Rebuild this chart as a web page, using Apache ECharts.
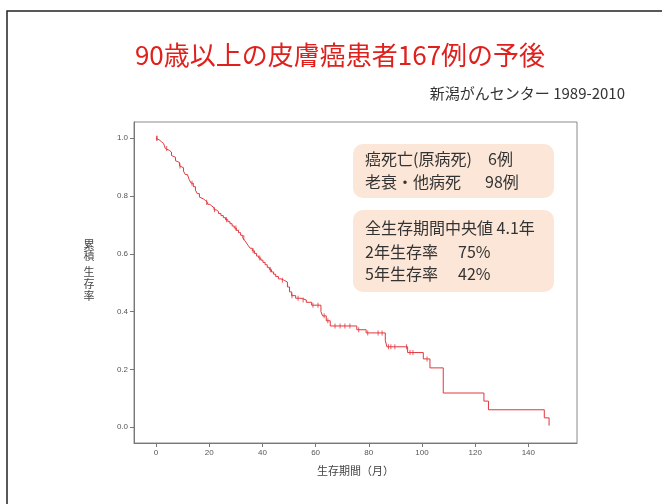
<!DOCTYPE html>
<html>
<head>
<meta charset="utf-8">
<script src="https://cdn.jsdelivr.net/npm/echarts@6/dist/echarts.min.js"></script>
<style>
html, body { margin: 0; padding: 0; background: #fff; }
#chart { width: 662px; height: 504px; }
</style>
</head>
<body>
<div id="chart"></div>
<script>
// Kaplan-Meier steps (months, cumulative survival)
var stepTimes = [0, 0.5, 1.2, 2, 2.8, 3.5, 4.2, 5, 5.8, 6.5, 7.3, 8, 8.8, 9.5, 10.3, 11, 11.8, 12.5, 13.2, 14,
    14.8, 15.5, 16.3, 17, 17.8, 18.6, 19.4, 20.2, 21, 21.8, 22.6, 23.5, 24.4, 25.3, 26.1, 27, 27.8, 28.6, 29.4, 30.2,
    31, 31.8, 32.6, 33.3, 34, 34.7, 35.4, 36.2, 37, 37.8, 38.6, 39.4, 40.2, 41, 41.8, 42.6, 43.4, 44.2, 45, 46,
    47, 48.2, 49.4, 50.2, 51, 52.5, 54.5, 56.5, 58.5, 62, 62.6, 64, 65.5, 75.5, 79, 86.2, 86.8, 94.6, 100.5, 103,
    108, 123.3, 125, 146, 147.8];
var stepSurv = [1.0, 0.994, 0.988, 0.982, 0.976, 0.964, 0.958, 0.952, 0.940, 0.934, 0.922, 0.916, 0.904, 0.898, 0.886, 0.874, 0.868, 0.856, 0.844, 0.832,
    0.820, 0.808, 0.796, 0.790, 0.784, 0.778, 0.771, 0.765, 0.759, 0.752, 0.746, 0.739, 0.732, 0.725, 0.718, 0.711, 0.704, 0.696, 0.689, 0.681,
    0.673, 0.664, 0.655, 0.646, 0.637, 0.628, 0.619, 0.610, 0.601, 0.592, 0.585, 0.578, 0.570, 0.562, 0.553, 0.545, 0.537, 0.529, 0.521, 0.513,
    0.508, 0.502, 0.485, 0.468, 0.455, 0.446, 0.440, 0.432, 0.422, 0.400, 0.385, 0.368, 0.350, 0.337, 0.326, 0.300, 0.278, 0.258, 0.236, 0.205,
    0.118, 0.090, 0.060, 0.032, 0.005];
// censored cases (months)
var censorTimes = [0.2, 0.4, 4, 9, 13.5, 19, 22, 26.5, 30, 33, 36.5, 39, 43, 47.5,
    51.1, 53.4, 55.3, 59, 60.9, 63.2, 64.6, 67.3, 69.2, 71, 72.9, 76.2, 79.6, 83.5, 85,
    87.4, 88.3, 89.8, 94.2, 95.5, 96.6, 101.9];

var xTicks = [0, 20, 40, 60, 80, 100, 120, 140];
var yTicks = [0, 0.2, 0.4, 0.6, 0.8, 1.0];

var titleText = '90歳以上の皮膚癌患者167例の予後';
var subText = '新潟がんセンター 1989-2010';

function survAt(t) {
    var s = 1;
    for (var i = 0; i < stepTimes.length; i++) {
        if (stepTimes[i] <= t) s = stepSurv[i];
    }
    return s;
}

var kmData = stepTimes.map(function (t, i) { return [t, stepSurv[i]]; });
var censorData = censorTimes.map(function (t) { return [t, survAt(t)]; });

var chart = echarts.init(document.getElementById('chart'));
var red = '#e2363c';
var font = '"Noto Sans CJK JP", "Noto Sans", sans-serif';
var boxText = { fontSize: 16, fill: '#333', fontFamily: font, textVerticalAlign: 'middle' };

var option = {
    animation: false,
    backgroundColor: '#fff',
    grid: {
        left: 134, top: 122, right: 85, bottom: 61,
        show: true, borderColor: '#8a8a8a', borderWidth: 1
    },
    xAxis: {
        type: 'value', min: -8.3, max: 158.3,
        name: '生存期間（月）', nameLocation: 'middle', nameGap: 22,
        nameTextStyle: { fontSize: 11, color: '#444', fontFamily: font },
        axisLine: { show: true, onZero: false, lineStyle: { color: '#777' } },
        axisTick: { show: true, length: 4, lineStyle: { color: '#777' }, customValues: xTicks },
        axisLabel: { fontSize: 8, color: '#555', margin: 6, customValues: xTicks },
        splitLine: { show: false }
    },
    yAxis: {
        type: 'value', min: -0.055, max: 1.056,
        axisLine: { show: true, onZero: false, lineStyle: { color: '#777' } },
        axisTick: { show: true, length: 4, lineStyle: { color: '#777' }, customValues: yTicks },
        axisLabel: {
            fontSize: 8, color: '#555', margin: 6, customValues: yTicks,
            formatter: function (v) { return v.toFixed(1); }
        },
        splitLine: { show: false }
    },
    series: [{
        type: 'line', step: 'end', data: kmData, symbol: 'none',
        lineStyle: { color: red, width: 1 }
    }, {
        type: 'scatter', data: censorData, symbol: 'rect', symbolSize: [1, 5],
        itemStyle: { color: red }
    }],
    graphic: [
        { type: 'rect', shape: { x: 7, y: 11, width: 700, height: 600 }, style: { fill: 'none', stroke: '#222', lineWidth: 1.5 }, silent: true },
        { type: 'text', x: 340, y: 55, style: { text: titleText, fontSize: 26, fill: '#e0201c', fontFamily: font, textAlign: 'center', textVerticalAlign: 'middle' } },
        { type: 'text', x: 625, y: 93, style: { text: subText, fontSize: 15, fill: '#333', fontFamily: font, textAlign: 'right', textVerticalAlign: 'middle' } },
        { type: 'text', x: 89, y: 250, style: { text: '累\n積', fontSize: 11, lineHeight: 11, fill: '#444', fontFamily: font, textAlign: 'center', textVerticalAlign: 'middle' } },
        { type: 'text', x: 89, y: 284, style: { text: '生\n存\n率', fontSize: 11, lineHeight: 12, fill: '#444', fontFamily: font, textAlign: 'center', textVerticalAlign: 'middle' } },
        { type: 'rect', shape: { x: 353, y: 144, width: 201, height: 54, r: 10 }, style: { fill: '#fbe6d8' } },
        { type: 'rect', shape: { x: 353, y: 210, width: 201, height: 82, r: 10 }, style: { fill: '#fbe6d8' } },
        { type: 'text', x: 365, y: 159, style: Object.assign({ text: '癌死亡(原病死)' }, boxText) },
        { type: 'text', x: 488, y: 159, style: Object.assign({ text: '6例' }, boxText) },
        { type: 'text', x: 365, y: 182, style: Object.assign({ text: '老衰・他病死' }, boxText) },
        { type: 'text', x: 485, y: 182, style: Object.assign({ text: '98例' }, boxText) },
        { type: 'text', x: 365, y: 228, style: Object.assign({ text: '全生存期間中央値 4.1年' }, boxText) },
        { type: 'text', x: 365, y: 252, style: Object.assign({ text: '2年生存率' }, boxText) },
        { type: 'text', x: 458, y: 252, style: Object.assign({ text: '75%' }, boxText) },
        { type: 'text', x: 365, y: 274, style: Object.assign({ text: '5年生存率' }, boxText) },
        { type: 'text', x: 458, y: 274, style: Object.assign({ text: '42%' }, boxText) }
    ]
};
chart.setOption(option);
window.onresize = chart.resize;
</script>
</body>
</html>
